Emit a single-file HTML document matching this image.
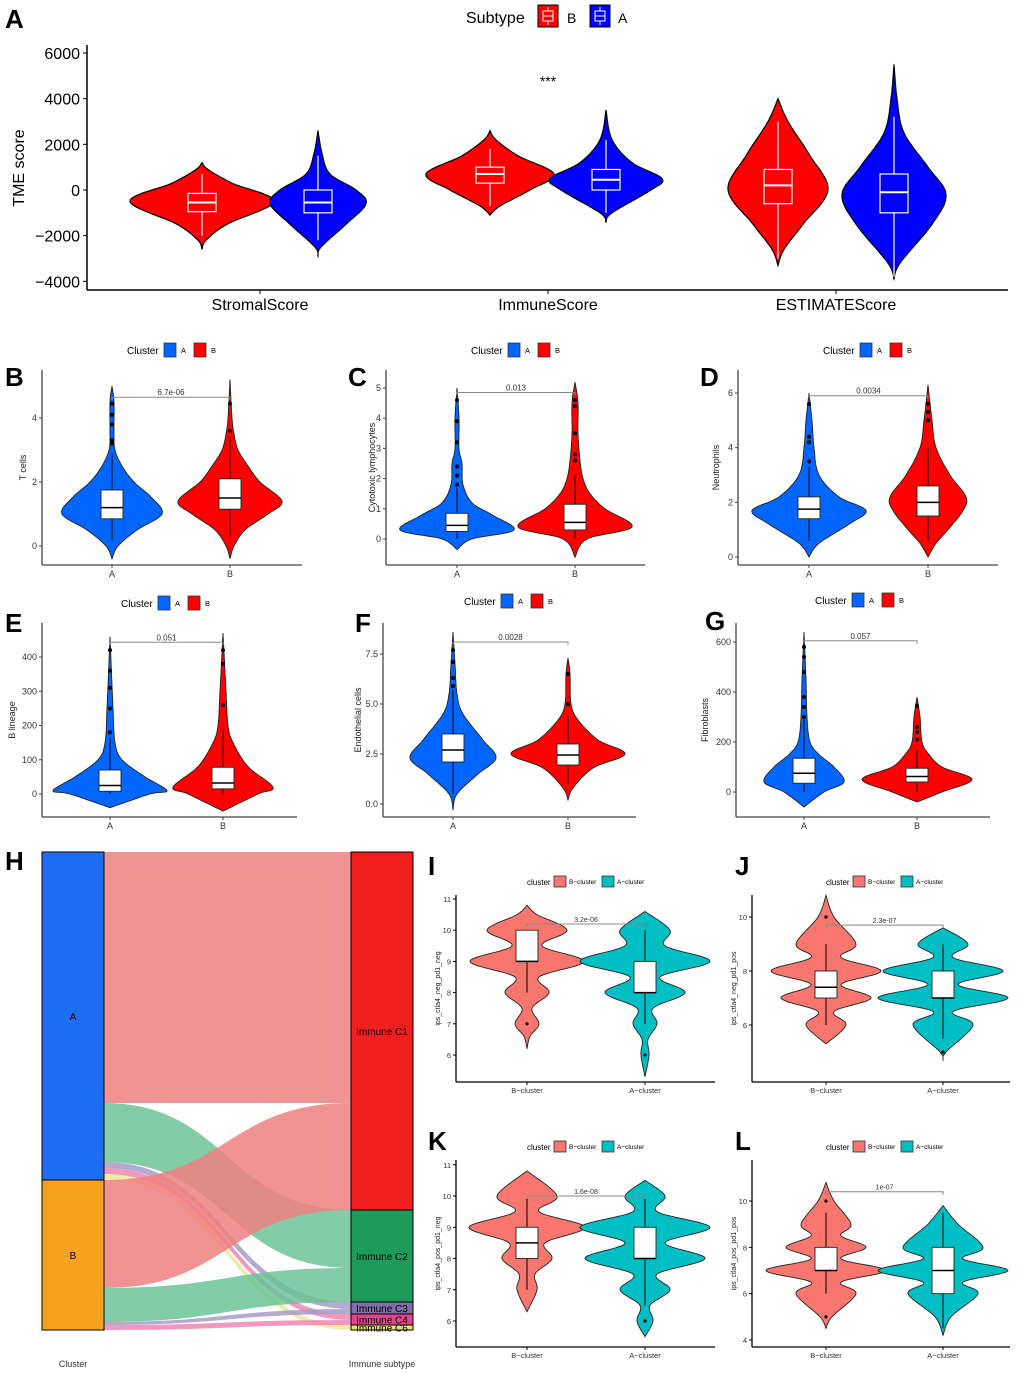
<!DOCTYPE html>
<html><head><meta charset="utf-8"><style>
html,body{margin:0;padding:0;background:#fff}
svg{display:block;font-family:"Liberation Sans",Arial,sans-serif}
</style></head><body>
<svg id="fig" width="1020" height="1374" viewBox="0 0 1020 1374" xmlns="http://www.w3.org/2000/svg"></svg>
<script>
// ---------------- DATA ----------------
const aCategories = ["StromalScore","ImmuneScore","ESTIMATEScore"];
const aTicks = [6000,4000,2000,0,-2000,-4000];
const aViolinB = [
 [[-2600,0],[-2200,4],[-1500,25],[-500,72],[300,30],[900,6],[1200,0]],
 [[-1100,0],[-700,10],[0,40],[700,64],[1500,28],[2200,6],[2600,0]],
 [[-3300,0],[-2600,6],[-1500,25],[0,50],[1500,32],[3000,10],[4000,0]]
];
const aViolinA = [
 [[-2900,0],[-2500,3],[-1500,28],[-600,48],[0,38],[700,12],[1600,4],[2600,0]],
 [[-1400,0],[-1000,6],[0,45],[500,56],[1200,26],[2200,6],[3500,0]],
 [[-3900,0],[-3200,6],[-1500,38],[-200,52],[1000,34],[2500,10],[4000,3],[5500,0]]
];
const aBoxB = [[-2000,-950,-550,-150,700],[-700,300,700,1000,1800],[-3000,-600,200,900,3000]];
const aBoxA = [[-2200,-1000,-550,0,1500],[-1000,0,450,900,2200],[-3800,-1000,-100,700,3200]];

const panels = [
 {id:"B",lx:5,ly:386,x0:42,x1:302,y0:370,y1:565,to:19,ticks:[0,2,4],tv:[0,4],ty:[546,418],ylab:"T cells",cats:["A","B"],cx:[112,230],
  violins:[[[-0.4,0],[0,6],[0.5,25],[1,50],[1.5,40],[2,22],[2.5,10],[3,3],[3.5,2],[4.5,2],[5,0]],
           [[-0.4,0],[0,4],[0.5,15],[1,38],[1.4,52],[2,30],[2.5,18],[3,8],[3.5,4],[4,2],[5.2,0]]],
  boxes:[[0.2,0.85,1.2,1.75,2.9],[0.3,1.15,1.5,2.1,3.4]],out:[[3.2,3.3,3.8,4.1,4.45],[3.6,4.45]],br:4.65,p:"6.7e-06",type:"cl",legx:128,legy:350},
 {id:"C",lx:348,ly:386,x0:386,x1:645,y0:370,y1:565,to:14,ticks:[0,1,2,3,4,5],tv:[0,5],ty:[539,388],ylab:"Cytotoxic lymphocytes",cats:["A","B"],cx:[457,575],
  violins:[[[-0.35,0],[0,15],[0.3,57],[0.8,35],[1.2,15],[1.8,6],[2.5,5],[3,2],[4,2],[5,0]],
           [[-0.6,0],[0,12],[0.4,57],[1,30],[1.5,15],[2,8],[2.6,5],[3.5,3],[4.5,3],[5.2,0]]],
  boxes:[[0,0.25,0.45,0.85,1.7],[0,0.3,0.55,1.15,2.1]],out:[[1.8,2.1,2.4,3.2,3.9,4.6],[2.6,2.8,3.5,4.4,4.6]],br:4.85,p:"0.013",type:"cl",legx:472,legy:350},
 {id:"D",lx:700,ly:386,x0:738,x1:998,y0:370,y1:565,to:22,ticks:[0,2,4,6],tv:[0,6],ty:[557,393],ylab:"Neutrophils",cats:["A","B"],cx:[809,928],
  violins:[[[0,0],[0.5,10],[1.2,40],[1.7,57],[2.2,30],[3,10],[4,5],[5,3],[6,0]],
           [[0,0],[0.5,8],[1,20],[1.7,35],[2.2,38],[3,22],[4,8],[5,4],[6.3,0]]],
  boxes:[[0.6,1.4,1.75,2.2,3.3],[0.6,1.5,2,2.6,4]],out:[[3.5,4.2,4.4,5.6],[5,5.3,5.6]],br:5.9,p:"0.0034",type:"cl",legx:824,legy:350},
 {id:"E",lx:5,ly:632,x0:42,x1:297,y0:623,y1:817,to:30,ticks:[0,100,200,300,400],tv:[0,400],ty:[794,657],ylab:"B lineage",cats:["A","B"],cx:[110,223],
  violins:[[[-40,0],[0,40],[10,57],[50,35],[100,12],[150,5],[250,3],[460,0]],
           [[-50,0],[0,35],[20,50],[80,25],[150,10],[200,5],[300,3],[470,0]]],
  boxes:[[0,8,25,70,165],[0,15,32,78,190]],out:[[180,250,310,360,420],[260,380,420]],br:443,p:"0.051",type:"cl",legx:122,legy:603},
 {id:"F",lx:355,ly:632,x0:383,x1:636,y0:623,y1:817,to:25,ticks:[0,2.5,5,7.5],tl:["0.0","2.5","5.0","7.5"],tv:[0,7.5],ty:[804,654],ylab:"Endothelial cells",cats:["A","B"],cx:[453,568],
  violins:[[[-0.3,0],[0.5,4],[1.5,25],[2.3,43],[3.2,30],[4.5,10],[5.5,4],[7,2],[8.6,0]],
           [[0.2,0],[0.8,5],[1.8,25],[2.5,57],[3.2,30],[4.2,10],[5,3],[6.5,2],[7.3,0]]],
  boxes:[[0.5,2.1,2.7,3.5,5.7],[1,1.95,2.45,3.0,4.4]],out:[[5.9,6.3,7.1,7.7],[5,6.5]],br:8.1,p:"0.0028",type:"cl",legx:465,legy:601},
 {id:"G",lx:705,ly:630,x0:736,x1:990,y0:623,y1:817,to:31,ticks:[0,200,400,600],tv:[0,600],ty:[792,642],ylab:"Fibroblasts",cats:["A","B"],cx:[804,917],
  violins:[[[-60,0],[0,20],[40,40],[100,30],[150,15],[200,6],[300,3],[450,2],[640,0]],
           [[-40,0],[0,25],[50,55],[100,25],[150,12],[200,5],[300,3],[380,0]]],
  boxes:[[0,35,75,135,290],[0,40,62,95,170]],out:[[300,340,380,480,540,580],[210,240,260,345]],br:605,p:"0.057",type:"cl",legx:816,legy:600},
 {id:"I",lx:428,ly:875,x0:456,x1:715,y0:895,y1:1082,to:19,ticks:[6,7,8,9,10,11],tv:[6,11],ty:[1055,899],ylab:"ips_ctla4_neg_pd1_neg",cats:["B\u2212cluster","A\u2212cluster"],cx:[527,645],
  violins:[[[6.2,0],[6.6,3],[7,12],[7.5,5],[8,22],[8.5,12],[9,57],[9.5,15],[10,40],[10.5,10],[10.8,0]],
           [[5.3,0],[6,4],[6.5,3],[7,12],[7.5,8],[8,40],[8.5,15],[9,65],[9.5,20],[10,25],[10.6,0]]],
  boxes:[[8,9,9,10,10],[7,8,8,9,10]],out:[[7],[6]],br:10.2,p:"3.2e-06",type:"ab",legx:527,legy:881},
 {id:"J",lx:735,ly:875,x0:752,x1:1010,y0:895,y1:1082,to:19,ticks:[6,8,10],tv:[6,10],ty:[1025,917],ylab:"ips_ctla4_neg_pd1_pos",cats:["B\u2212cluster","A\u2212cluster"],cx:[826,943],
  violins:[[[5.3,0],[6,20],[6.5,8],[7,45],[7.5,15],[8,55],[8.5,15],[9,30],[10,8],[10.8,0]],
           [[4.7,0],[5,3],[6,30],[6.5,10],[7,65],[7.5,15],[8,60],[8.5,10],[9,25],[9.6,0]]],
  boxes:[[6,7,7.4,8,9],[5.5,7,7,8,9]],out:[[10],[5]],br:9.7,p:"2.3e-07",type:"ab",legx:826,legy:881},
 {id:"K",lx:428,ly:1150,x0:456,x1:715,y0:1160,y1:1347,to:19,ticks:[6,7,8,9,10,11],tv:[6,10],ty:[1321,1196],ylab:"ips_ctla4_pos_pd1_neg",cats:["B\u2212cluster","A\u2212cluster"],cx:[527,645],
  violins:[[[6.3,0],[7,10],[7.5,8],[8,25],[8.5,18],[9,58],[9.5,12],[10,30],[10.8,0]],
           [[5.5,0],[6,8],[6.5,5],[7,25],[7.5,12],[8,60],[8.5,20],[9,65],[9.5,12],[10,20],[10.5,0]]],
  boxes:[[7,8,8.5,9,10],[6.5,8,8,9,10]],out:[[],[6]],br:10,p:"1.6e-08",type:"ab",legx:527,legy:1146},
 {id:"L",lx:735,ly:1150,x0:752,x1:1010,y0:1160,y1:1347,to:19,ticks:[4,6,8,10],tv:[4,10],ty:[1340,1201],ylab:"ips_ctla4_pos_pd1_pos",cats:["B\u2212cluster","A\u2212cluster"],cx:[826,943],
  violins:[[[4.5,0],[5,6],[6,30],[6.5,15],[7,60],[7.5,15],[8,40],[8.5,15],[9,25],[10,8],[10.8,0]],
           [[4.2,0],[5,8],[6,35],[6.5,20],[7,65],[7.5,20],[8,40],[9,15],[9.8,0]]],
  boxes:[[6,7,7,8,9.5],[4.5,6,7,8,9.5]],out:[[5,10],[]],br:10.4,p:"1e-07",type:"ab",legx:826,legy:1146}
];

const leftNodes = [["A",852,1180,"#1C6EF2"],["B",1180,1330,"#F7A11F"]];
const rightNodes = [["Immune C1",852,1210,"#F01E1E"],["Immune C2",1210,1302,"#1E9A5A"],["Immune C3",1302,1314,"#7F6FA8"],["Immune C4",1314,1325,"#E0478F"],["Immune C6",1325,1330,"#E8E36A"]];
const flows = [
 [852,1103,852,1103,"#F08080"],[1103,1162,1210,1268,"#6CC397"],[1162,1168,1302,1309,"#A89BC8"],[1168,1174,1314,1320,"#EE86B4"],[1174,1180,1325,1330,"#EEE79A"],
 [1180,1288,1103,1210,"#F08080"],[1288,1322,1268,1302,"#6CC397"],[1322,1325,1309,1314,"#A89BC8"],[1325,1330,1320,1325,"#EE86B4"]
];

// ---------------- DRAWING ----------------
const NS="http://www.w3.org/2000/svg";
const svg=document.getElementById("fig");
function el(tag,attrs,parent,txt){const e=document.createElementNS(NS,tag);for(const k in attrs)e.setAttribute(k,attrs[k]);if(txt!==undefined)e.textContent=txt;(parent||svg).appendChild(e);return e;}
function violinPath(pts,cx,ys,scale){
  const n=pts.length,L=[],R=[];
  const P=i=>pts[Math.max(0,Math.min(n-1,i))];
  for(let i=0;i<n-1;i++){
    const p0=P(i-1),p1=P(i),p2=P(i+1),p3=P(i+2);
    const N=14;
    for(let s=0;s<N;s++){const t=s/N,t2=t*t,t3=t2*t;
      const cr=(a,b,c,d)=>0.5*((2*b)+(-a+c)*t+(2*a-5*b+4*c-d)*t2+(-a+3*b-3*c+d)*t3);
      const v=cr(p0[0],p1[0],p2[0],p3[0]);let w=Math.max(0,cr(p0[1],p1[1],p2[1],p3[1]))*scale;
      const y=ys(v);L.push([cx-w,y]);R.push([cx+w,y]);}
  }
  L.push([cx,ys(pts[n-1][0])]);
  let d="M"+L.map(p=>p[0].toFixed(1)+","+p[1].toFixed(1)).join("L");
  d+="L"+R.reverse().map(p=>p[0].toFixed(1)+","+p[1].toFixed(1)).join("L")+"Z";
  return d;
}
function addLabel(t,x,y){const e=el("text",{x:x,y:y,"font-size":26,"font-weight":"bold",fill:"#000"},svg,t);}

(function(){
  const g=el("g",{});
  addLabel("A",5,28);
  const ys=v=>190-v*137/6000;
  const cx=[260,548,836];
  const lg=el("g",{},g);
  el("text",{x:466,y:23,"font-size":16},lg,"Subtype");
  [[538,"#FF0000","B",571],[590,"#0000FF","A",622]].forEach(([x,c,t,tx])=>{
    el("rect",{x:x,y:5,width:20,height:22,fill:c,stroke:"#000","stroke-width":1},lg);
    el("rect",{x:x+5,y:11,width:10,height:10,fill:"none",stroke:"#fff","stroke-width":1},lg);
    el("line",{x1:x+5,x2:x+15,y1:16,y2:16,stroke:"#fff"},lg);
    el("line",{x1:x+10,x2:x+10,y1:7,y2:11,stroke:"#fff"},lg);el("line",{x1:x+10,x2:x+10,y1:21,y2:25,stroke:"#fff"},lg);
    el("text",{x:tx-4,y:23,"font-size":14},lg,t);
  });
  el("line",{x1:87,y1:45,x2:87,y2:290,stroke:"#000","stroke-width":1.5},g);
  el("line",{x1:87,y1:290,x2:1008,y2:290,stroke:"#000","stroke-width":1.5},g);
  aTicks.forEach(t=>{const y=ys(t);el("line",{x1:83,x2:87,y1:y,y2:y,stroke:"#000"},g);const tx=el("text",{x:80,y:y+6,"font-size":16,"text-anchor":"end"},g,String(t).replace("-","\u2212"));});
  const yt=el("text",{x:0,y:0,"font-size":16,"text-anchor":"middle",transform:"translate(24,168) rotate(-90)"},g,"TME score");
  aCategories.forEach((c,i)=>{
    el("line",{x1:cx[i],x2:cx[i],y1:290,y2:294,stroke:"#000"},g);
    const t=el("text",{x:cx[i],y:310,"font-size":16,"text-anchor":"middle"},g,c);
    [[aViolinB,aBoxB,-58,"#FF0000"],[aViolinA,aBoxA,58,"#0000FF"]].forEach(([V,B,off,col])=>{
      const x=cx[i]+off;
      const p=el("path",{d:violinPath(V[i],x,ys,1),fill:col,stroke:"#000","stroke-width":1.2},g);
      
      const b=B[i];
      el("line",{x1:x,x2:x,y1:ys(b[0]),y2:ys(b[4]),stroke:"#fff","stroke-width":1.2},g);
      el("rect",{x:x-14,y:ys(b[3]),width:28,height:ys(b[1])-ys(b[3]),fill:col,stroke:"#fff","stroke-width":1.2},g);
      el("line",{x1:x-14,x2:x+14,y1:ys(b[2]),y2:ys(b[2]),stroke:"#fff","stroke-width":2},g);
    });
  });
  el("text",{x:548,y:86,"font-size":14,"text-anchor":"middle"},g,"***");
})();

panels.forEach(P=>{
  const g=el("g",{});
  addLabel(P.id,P.lx,P.ly);
  const k=(P.ty[1]-P.ty[0])/(P.tv[1]-P.tv[0]);
  const ys=v=>P.ty[0]+(v-P.tv[0])*k;
  const ab=P.type==="ab";
  const cols=ab?["#F8766D","#00BFC4"]:["#0066FF","#FF0000"];
  const axc=ab?"#000":"#444";
  const lg=el("g",{},g);
  if(ab){
    el("text",{x:P.legx,y:P.legy+4,"font-size":8},lg,"cluster");
    el("rect",{x:P.legx+27,y:P.legy-5,width:12,height:11,fill:cols[0],stroke:"#333","stroke-width":0.8},lg);
    el("text",{x:P.legx+42,y:P.legy+3,"font-size":6.5},lg,"B\u2212cluster");
    el("rect",{x:P.legx+75,y:P.legy-5,width:12,height:11,fill:cols[1],stroke:"#333","stroke-width":0.8},lg);
    el("text",{x:P.legx+90,y:P.legy+3,"font-size":6.5},lg,"A\u2212cluster");
  } else {
    el("text",{x:P.legx-1,y:P.legy+4,"font-size":10},lg,"Cluster");
    el("rect",{x:P.legx+36,y:P.legy-7,width:12,height:14,fill:cols[0],stroke:"#333","stroke-width":0.8},lg);
    el("text",{x:P.legx+53,y:P.legy+3,"font-size":7.5},lg,"A");
    el("rect",{x:P.legx+66,y:P.legy-7,width:12,height:14,fill:cols[1],stroke:"#333","stroke-width":0.8},lg);
    el("text",{x:P.legx+83,y:P.legy+3,"font-size":7.5},lg,"B");
  }
  el("line",{x1:P.x0,y1:P.y0,x2:P.x0,y2:P.y1,stroke:axc,"stroke-width":1.3},g);
  el("line",{x1:P.x0,y1:P.y1,x2:P.x1,y2:P.y1,stroke:axc,"stroke-width":1.3},g);
  P.ticks.forEach((t,i)=>{const y=ys(t);el("line",{x1:P.x0-3,x2:P.x0,y1:y,y2:y,stroke:axc},g);
    const tx=el("text",{x:P.x0-5,y:y+3,"font-size":ab?7.5:9,"text-anchor":"end",fill:"#333"},g,P.tl?P.tl[i]:String(t));});
  const ym=(P.y0+P.y1)/2;
  const yt=el("text",{x:0,y:0,"font-size":ab?7:9,"text-anchor":"middle",fill:"#222",transform:`translate(${P.x0-P.to+3},${ym}) rotate(-90)`},g,P.ylab);
  
  P.cats.forEach((c,i)=>{
    const x=P.cx[i];
    el("line",{x1:x,x2:x,y1:P.y1,y2:P.y1+3,stroke:axc},g);
    const t=el("text",{x:x,y:P.y1+(ab?11:12),"font-size":ab?7.5:9,"text-anchor":"middle",fill:"#333"},g,c);
    const p=el("path",{d:violinPath(P.violins[i],x,ys,1),fill:cols[i],stroke:"#222","stroke-width":0.9},g);
    
    const b=P.boxes[i];
    el("line",{x1:x,x2:x,y1:ys(b[0]),y2:ys(b[4]),stroke:"#000","stroke-width":1},g);
    el("rect",{x:x-11,y:ys(b[3]),width:22,height:ys(b[1])-ys(b[3]),fill:"#fff",stroke:"#222","stroke-width":0.9},g);
    el("line",{x1:x-11,x2:x+11,y1:ys(b[2]),y2:ys(b[2]),stroke:"#000","stroke-width":1.5},g);
    if(P.out)P.out[i].forEach(o=>{const c=el("circle",{cx:x,cy:ys(o),r:ab?1.6:2,fill:"#000"},g);});
  });
  const by=ys(P.br);
  el("path",{d:`M${P.cx[0]},${by+3}V${by}H${P.cx[1]}V${by+3}`,fill:"none",stroke:"#888","stroke-width":1},g);
  const pt=el("text",{x:(P.cx[0]+P.cx[1])/2,y:by-2,"font-size":ab?7:8,"text-anchor":"middle",fill:"#333"},g,P.p);
  
});

(function(){
  const g=el("g",{});
  addLabel("H",5,870);
  flows.forEach(f=>{
    const [l0,l1,r0,r1,c]=f, xa=104, xb=351, m=(xa+xb)/2;
    const p=el("path",{d:`M${xa},${l0}C${m},${l0} ${m},${r0} ${xb},${r0}L${xb},${r1}C${m},${r1} ${m},${l1} ${xa},${l1}Z`,fill:c,"fill-opacity":0.85},g);
    
  });
  leftNodes.forEach(n=>{const r=el("rect",{x:42,y:n[1],width:62,height:n[2]-n[1],fill:n[3],stroke:"#000","stroke-width":1},g);
    el("text",{x:73,y:(n[1]+n[2])/2+4,"font-size":10,"text-anchor":"middle"},g,n[0]);});
  rightNodes.forEach(n=>{const r=el("rect",{x:351,y:n[1],width:62,height:n[2]-n[1],fill:n[3],stroke:"#000","stroke-width":1},g);
    el("text",{x:382,y:(n[1]+n[2])/2+4,"font-size":10,"text-anchor":"middle"},g,n[0]);});
  el("text",{x:73,y:1367,"font-size":9,"text-anchor":"middle",fill:"#333"},g,"Cluster");
  el("text",{x:382,y:1367,"font-size":9,"text-anchor":"middle",fill:"#333"},g,"Immune subtype");
})();
</script>
</body></html>
